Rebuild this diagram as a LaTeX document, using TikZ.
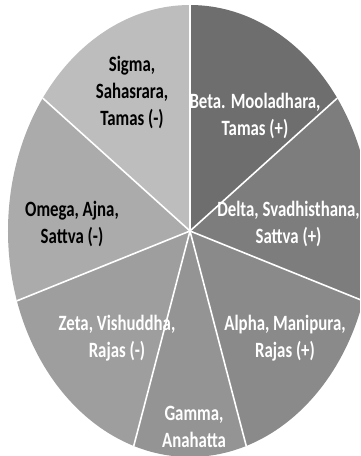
\documentclass[tikz,border=0pt]{standalone}
\usepackage{fontspec}
\usepackage{graphicx}
\setmainfont{Carlito}
% tall, narrow label text: a centred block stretched vertically
\newcommand\tallblock[1]{\scalebox{1}[1.3]{\fontsize{16.8}{20.8}\selectfont\bfseries
  \begin{tabular}{@{}c@{}}#1\end{tabular}}}
\begin{document}
\begin{tikzpicture}[x=1pt,y=1pt,
  spoke/.style={draw=white,line width=1.6pt},
  lbl/.style={inner sep=0pt},
  lightlbl/.style={lbl,text=black},
  darklbl/.style={lbl,text=white}]
  \def\rx{182}\def\ry{226}
  \useasboundingbox (-190,-225) rectangle (170,231);
  \clip (-190,-225) rectangle (170,231);
  \fill[white] (-190,-225) rectangle (170,231);

  \definecolor{cBeta}{gray}{0.43}
  \definecolor{cDelta}{gray}{0.49}
  \definecolor{cAlpha}{gray}{0.54}
  \definecolor{cGamma}{gray}{0.58}
  \definecolor{cZeta}{gray}{0.62}
  \definecolor{cOmega}{gray}{0.67}
  \definecolor{cSigma}{gray}{0.74}

  \coordinate (c) at (0,0);
  % slices: start angle, end angle, colour
  \foreach \a/\b/\col in {36/90/cBeta, -18/36/cDelta, -72/-18/cAlpha,
      -108/-72/cGamma, -162/-108/cZeta, 144/198/cOmega, 90/144/cSigma}{
    \fill[\col] (c) -- (\a:\rx pt and \ry pt)
      arc[start angle=\a, end angle=\b, x radius=\rx, y radius=\ry] -- cycle;
  }

  % slice borders
  \foreach \n/\t in {p1/90, p2/36, p3/-18, p4/-72, p5/-108, p6/-162, p7/144}{
    \coordinate (\n) at (\t:\rx pt and \ry pt);
  }
  \foreach \n in {p1,p2,p3,p4,p5,p6,p7}{
    \draw[spoke] (c) -- (\n);
  }

  % labels
  \node[lightlbl] (sigma) at (-58,138) {\tallblock{Sigma,\\Sahasrara,\\Tamas (-)}};
  \node[darklbl]  (beta)  at (65,114) {\tallblock{Beta. Mooladhara,\\Tamas (+)}};
  \node[lightlbl] (omega) at (-118,6.5) {\tallblock{Omega, Ajna,\\Sattva (-)}};
  \node[darklbl]  (delta) at (98.5,6) {\tallblock{Delta, Svadhisthana,\\Sattva (+)}};
  \node[darklbl]  (zeta)  at (-73,-107.5) {\tallblock{Zeta, Vishuddha,\\Rajas (-)}};
  \node[darklbl]  (alpha) at (95,-107.5) {\tallblock{Alpha, Manipura,\\Rajas (+)}};
  \node[darklbl]  (gamma) at (4,-198) {\tallblock{Gamma,\\Anahatta}};
\end{tikzpicture}
\end{document}
